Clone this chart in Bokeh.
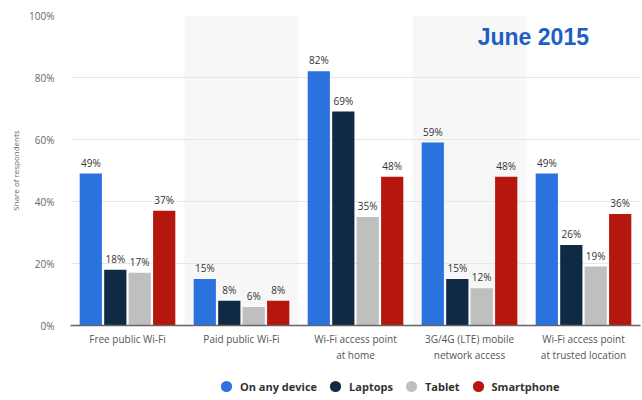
from bokeh.plotting import figure
from bokeh.layouts import column
from bokeh.models import FactorRange, Range1d, Label, Legend, LegendItem, PrintfTickFormatter, ColumnDataSource, FixedTicker
from bokeh.transform import dodge
from bokeh.core.properties import value
from bokeh.embed import file_html
from bokeh.resources import INLINE

categories = ["Free public Wi-Fi", "Paid public Wi-Fi", "Wi-Fi access point\nat home",
              "3G/4G (LTE) mobile\nnetwork access", "Wi-Fi access point\nat trusted location"]
shaded = [categories[1], categories[3]]
series = ["On any device", "Laptops", "Tablet", "Smartphone"]
any_device = [49, 15, 82, 59, 49]
laptops = [18, 8, 69, 15, 26]
tablet = [17, 6, 35, 12, 19]
smartphone = [37, 8, 48, 48, 36]
colors = ["#2a72de", "#0f2a45", "#bfbfbf", "#b5170f"]
y_ticks = [0, 20, 40, 60, 80, 100]
title_text = "June 2015"

values_list = [any_device, laptops, tablet, smartphone]
offsets = [-0.322, -0.107, 0.107, 0.322]

FONT = "Open Sans"

p = figure(width=642, height=372, x_range=FactorRange(*categories), y_range=Range1d(0, 100),
           output_backend="svg", toolbar_location=None,
           min_border_left=70, min_border_right=2, min_border_top=15, min_border_bottom=47)
p.outline_line_color = None
p.background_fill_color = "white"

# shaded category bands
p.vbar(x=shaded, top=[100] * len(shaded), width=1.0, fill_color="#f7f7f7", line_color=None, level="image")

for vals, off, col in zip(values_list, offsets, colors):
    src = ColumnDataSource(dict(cat=categories, val=vals, lab=[f"{v}%" for v in vals]))
    p.vbar(x=dodge("cat", off, range=p.x_range), top="val", width=0.195, source=src,
           fill_color=col, line_color=None)
    p.text(x=dodge("cat", off, range=p.x_range), y="val", text="lab", source=src,
           text_align="center", text_baseline="bottom", y_offset=-4,
           text_font=value(FONT), text_font_size="10px", text_color="#333333")

# title
p.add_layout(Label(x=4.06, y=93, text=title_text, text_align="center", text_baseline="middle",
                   text_font="Liberation Sans", text_font_style="bold",
                   text_font_size="23px", text_color="#1d5fc4"))

# axes
p.yaxis.ticker = FixedTicker(ticks=y_ticks)
p.yaxis.formatter = PrintfTickFormatter(format="%d%%")
p.yaxis.axis_line_color = None
p.yaxis.major_tick_line_color = None
p.yaxis.minor_tick_line_color = None
p.yaxis.major_label_text_font = FONT
p.yaxis.major_label_text_font_size = "10px"
p.yaxis.major_label_text_color = "#666666"
p.yaxis.axis_label = "Share of respondents"
p.yaxis.axis_label_text_font = FONT
p.yaxis.axis_label_text_font_size = "8px"
p.yaxis.axis_label_text_font_style = "normal"
p.yaxis.axis_label_text_color = "#666666"
p.yaxis.major_label_standoff = 10

p.xaxis.axis_line_color = "#666666"
p.xaxis.axis_line_width = 1.5
p.xaxis.major_tick_line_color = None
p.xaxis.minor_tick_line_color = None
p.xaxis.major_label_text_font = FONT
p.xaxis.major_label_text_font_size = "10px"
p.xaxis.major_label_text_color = "#555555"
p.xaxis.major_label_standoff = 0

p.xgrid.grid_line_color = None
p.ygrid.grid_line_color = "#e6e6e6"

# legend strip below the chart (circle markers kept outside the visible range)
lg = figure(width=642, height=28, x_range=Range1d(0, 1), y_range=Range1d(0, 1),
            output_backend="svg", toolbar_location=None,
            min_border_left=0, min_border_right=0, min_border_top=0, min_border_bottom=0)
lg.axis.visible = False
lg.grid.visible = False
lg.outline_line_color = None
items = []
for name, col in zip(series, colors):
    r = lg.scatter(x=[-10], y=[-10], marker="circle", size=12, fill_color=col, line_color=None)
    items.append(LegendItem(label=name, renderers=[r]))
legend = Legend(items=items, orientation="horizontal", location=(142, 0),
                label_text_font=FONT, label_text_font_style="bold", label_text_font_size="11px",
                label_text_color="#333333", glyph_width=28, glyph_height=28, label_standoff=-3,
                spacing=4, padding=0, margin=0, border_line_color=None, background_fill_alpha=0)
lg.add_layout(legend, "center")

layout = column(p, lg, spacing=0)
open("out.html", "w").write(file_html(layout, INLINE))
